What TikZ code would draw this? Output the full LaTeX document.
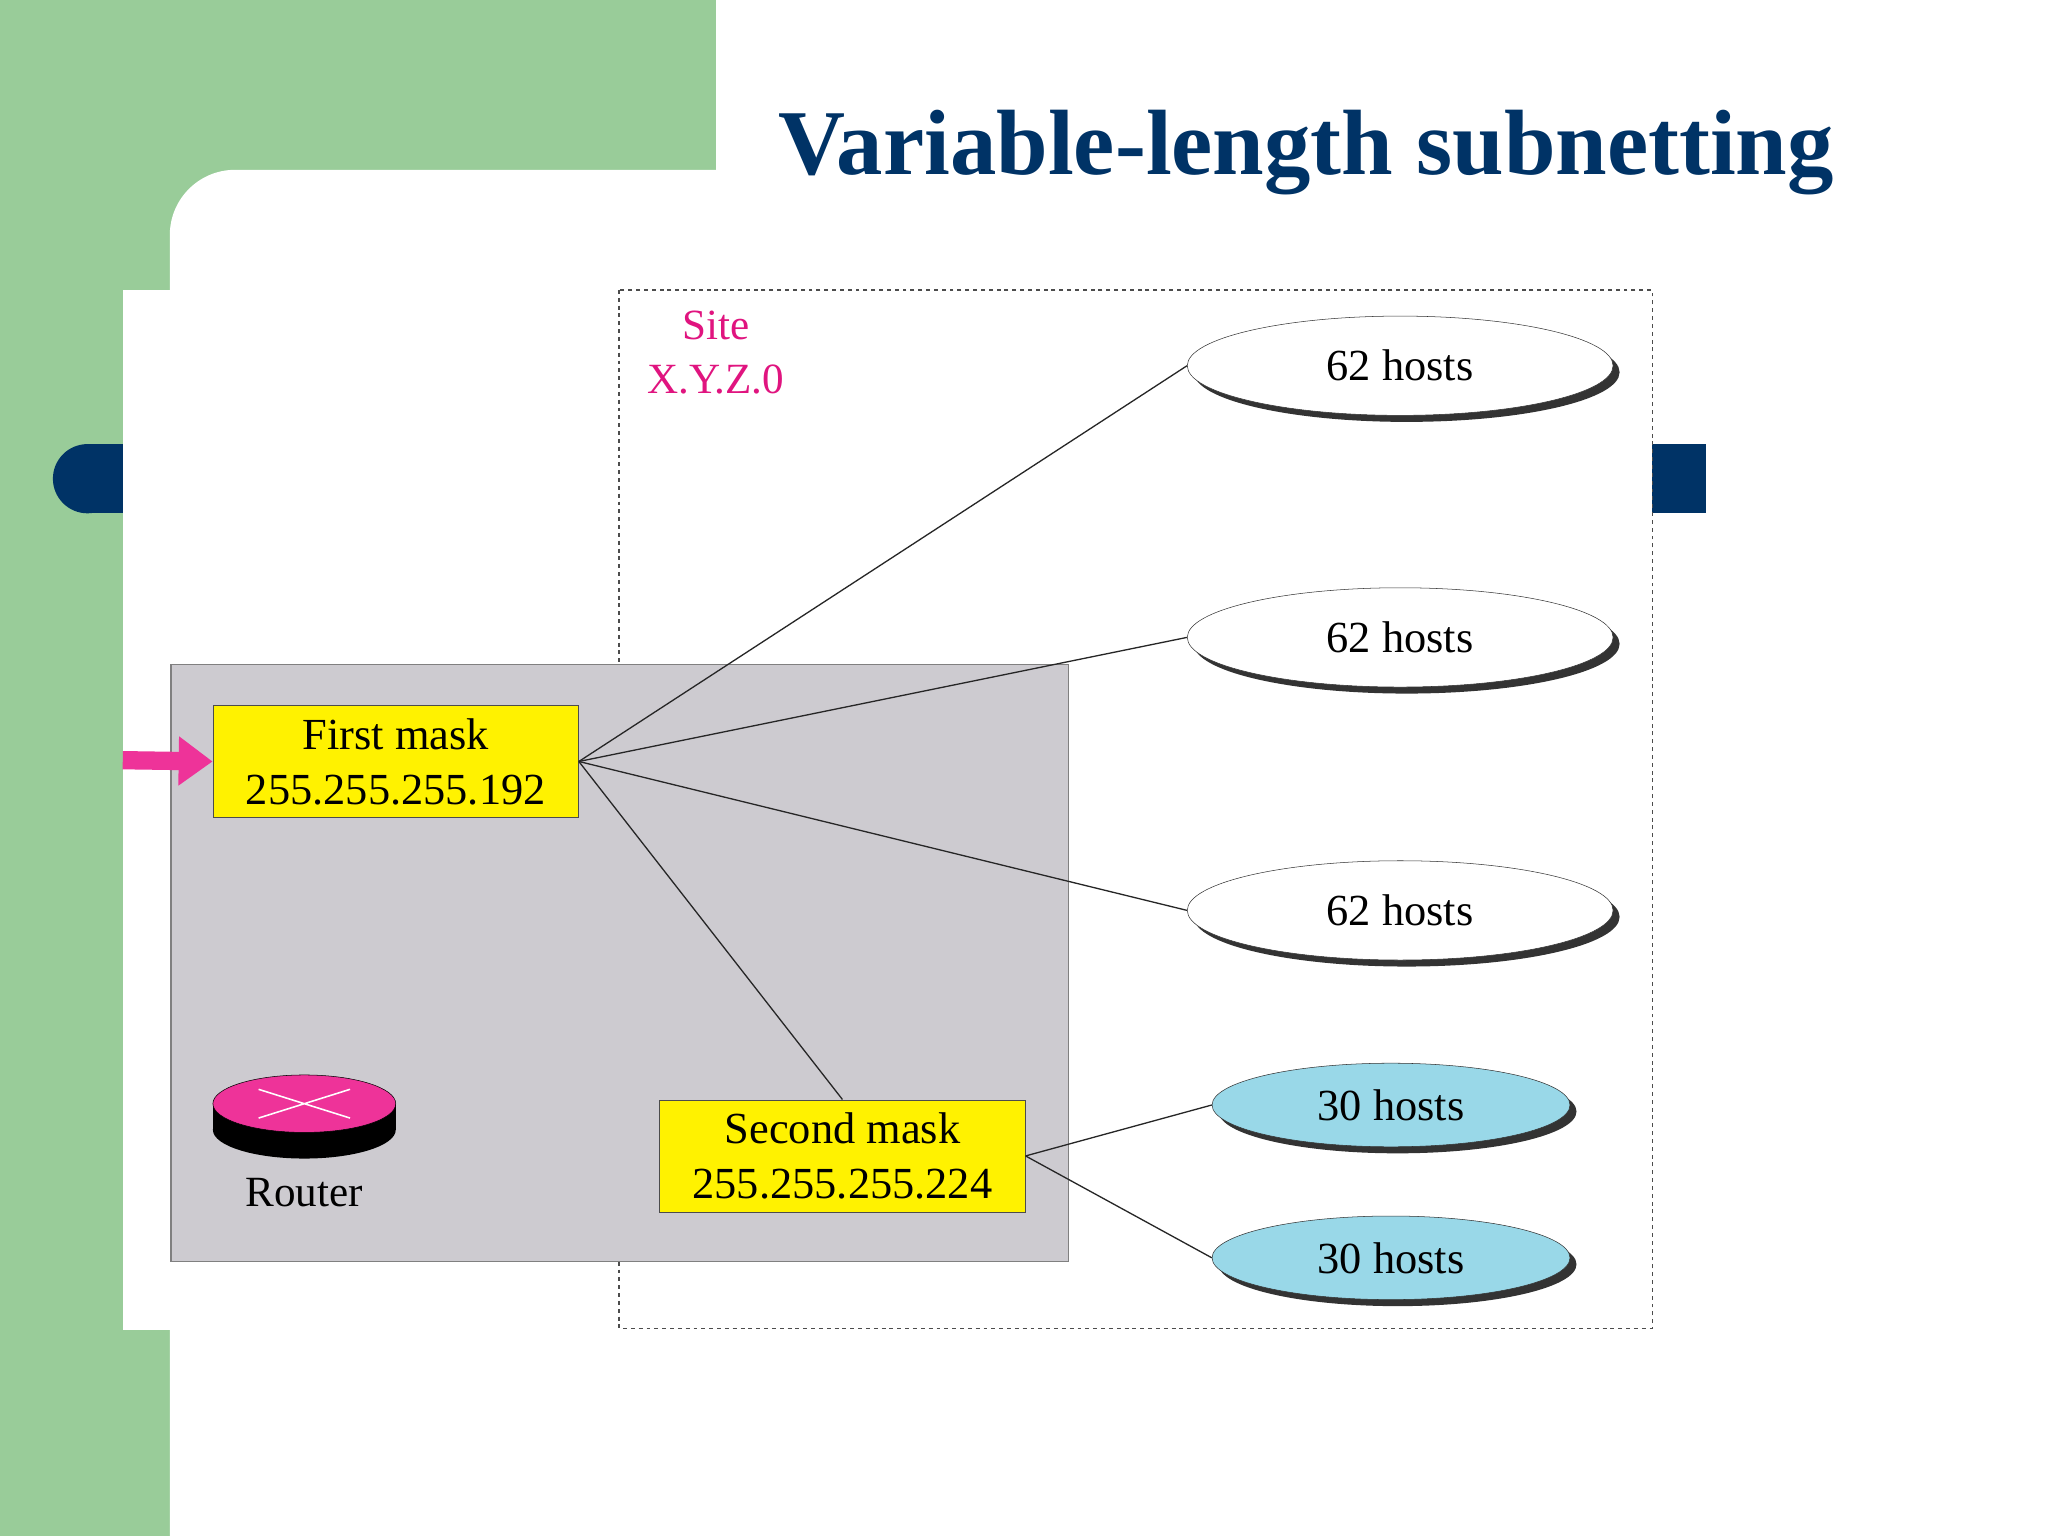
\documentclass[tikz,border=0pt]{standalone}
\usepackage{fontspec}
\setmainfont{Liberation Serif}
\usetikzlibrary{shapes.geometric,arrows.meta}
\definecolor{gr}{HTML}{99CC99}
\definecolor{navy}{HTML}{003366}
\definecolor{pk}{HTML}{EE3399}
\definecolor{pinkt}{HTML}{E0147F}
\definecolor{boxg}{HTML}{CDCBD0}
\definecolor{cyanh}{HTML}{99D8E8}
\tikzset{
 mask/.style={draw=black!70,fill=yellow,minimum width=280pt,minimum height=86pt,align=center,font=\fontsize{34}{42}\selectfont,inner sep=0pt},
 host/.style={ellipse,draw=black!80,fill=white,minimum width=326pt,minimum height=76pt,font=\fontsize{34}{40}\selectfont,inner sep=0pt},
 hostb/.style={host,fill=cyanh,minimum width=274pt,minimum height=64pt},
 link/.style={draw=black!85,line width=1pt}
}
\begin{document}
\begin{tikzpicture}[x=1pt,y=-1pt]
\useasboundingbox (0,0) rectangle (1568,1176);
\fill[white] (0,0) rectangle (1568,1176);
\fill[gr] (0,0) rectangle (548,130);
\fill[gr] (0,0) rectangle (130,1176);
\fill[gr] (130,130) rectangle (190,190);
\fill[white,rounded corners=50pt] (130,1300) -- (130,130) -- (700,130) -- (700,1300) -- cycle;
\fill[navy] (67,340) rectangle (94,393);
\fill[navy] (67,366.5) circle[radius=26.5];
\fill[navy] (1265,340) rectangle (1306,393);
\fill[white] (94,222) rectangle (300,1018);
\node[font=\bfseries\fontsize{71}{80}\selectfont,text=navy] (title) at (1000,117) {Variable-length subnetting};
\draw[dashed,black!70,line width=1pt] (474,222) rectangle (1265,1017);
\node[text=pinkt,font=\fontsize{33}{41}\selectfont,align=center] (site) at (548,270) {Site\\X.Y.Z.0};
\draw[fill=boxg,draw=black!50,line width=1pt] (131,509) rectangle (818,966);
\foreach \n/\y in {a/280,b/488,c/697}{
 \fill[black!80] (1077,\y+5) ellipse[x radius=163,y radius=38];
 \node[host] (\n) at (1072,\y) {62 hosts};
}
\foreach \n/\y in {d/846,e/963}{
 \fill[black!80] (1070,\y+5) ellipse[x radius=137,y radius=32];
 \node[hostb] (\n) at (1065,\y) {30 hosts};
}
\node[mask] (m1) at (303,583) {First mask\\255.255.255.192};
\node[mask] (m2) at (645,885) {Second mask\\255.255.255.224};
\draw[link] (m1.east) -- (a.west);
\draw[link] (m1.east) -- (b.west);
\draw[link] (m1.east) -- (c.west);
\draw[link] (m1.east) -- (m2.north);
\draw[link] (m2.east) -- (d.west);
\draw[link] (m2.east) -- (e.west);
\coordinate (in) at (94,582);
\draw[pk,line width=14pt,-{Triangle[length=26pt,width=36pt]}] (in) -- (m1.west);
\fill[black] (233,865) ellipse[x radius=70,y radius=22];
\fill[black] (163,845) rectangle (303,865);
\draw[fill=pk,draw=black] (233,845) ellipse[x radius=70,y radius=22];
\draw[white,line width=1.2pt] (198,834) -- (268,856) (198,856) -- (268,834);
\node[font=\fontsize{33}{38}\selectfont] (rt) at (233,913) {Router};
\end{tikzpicture}
\end{document}
